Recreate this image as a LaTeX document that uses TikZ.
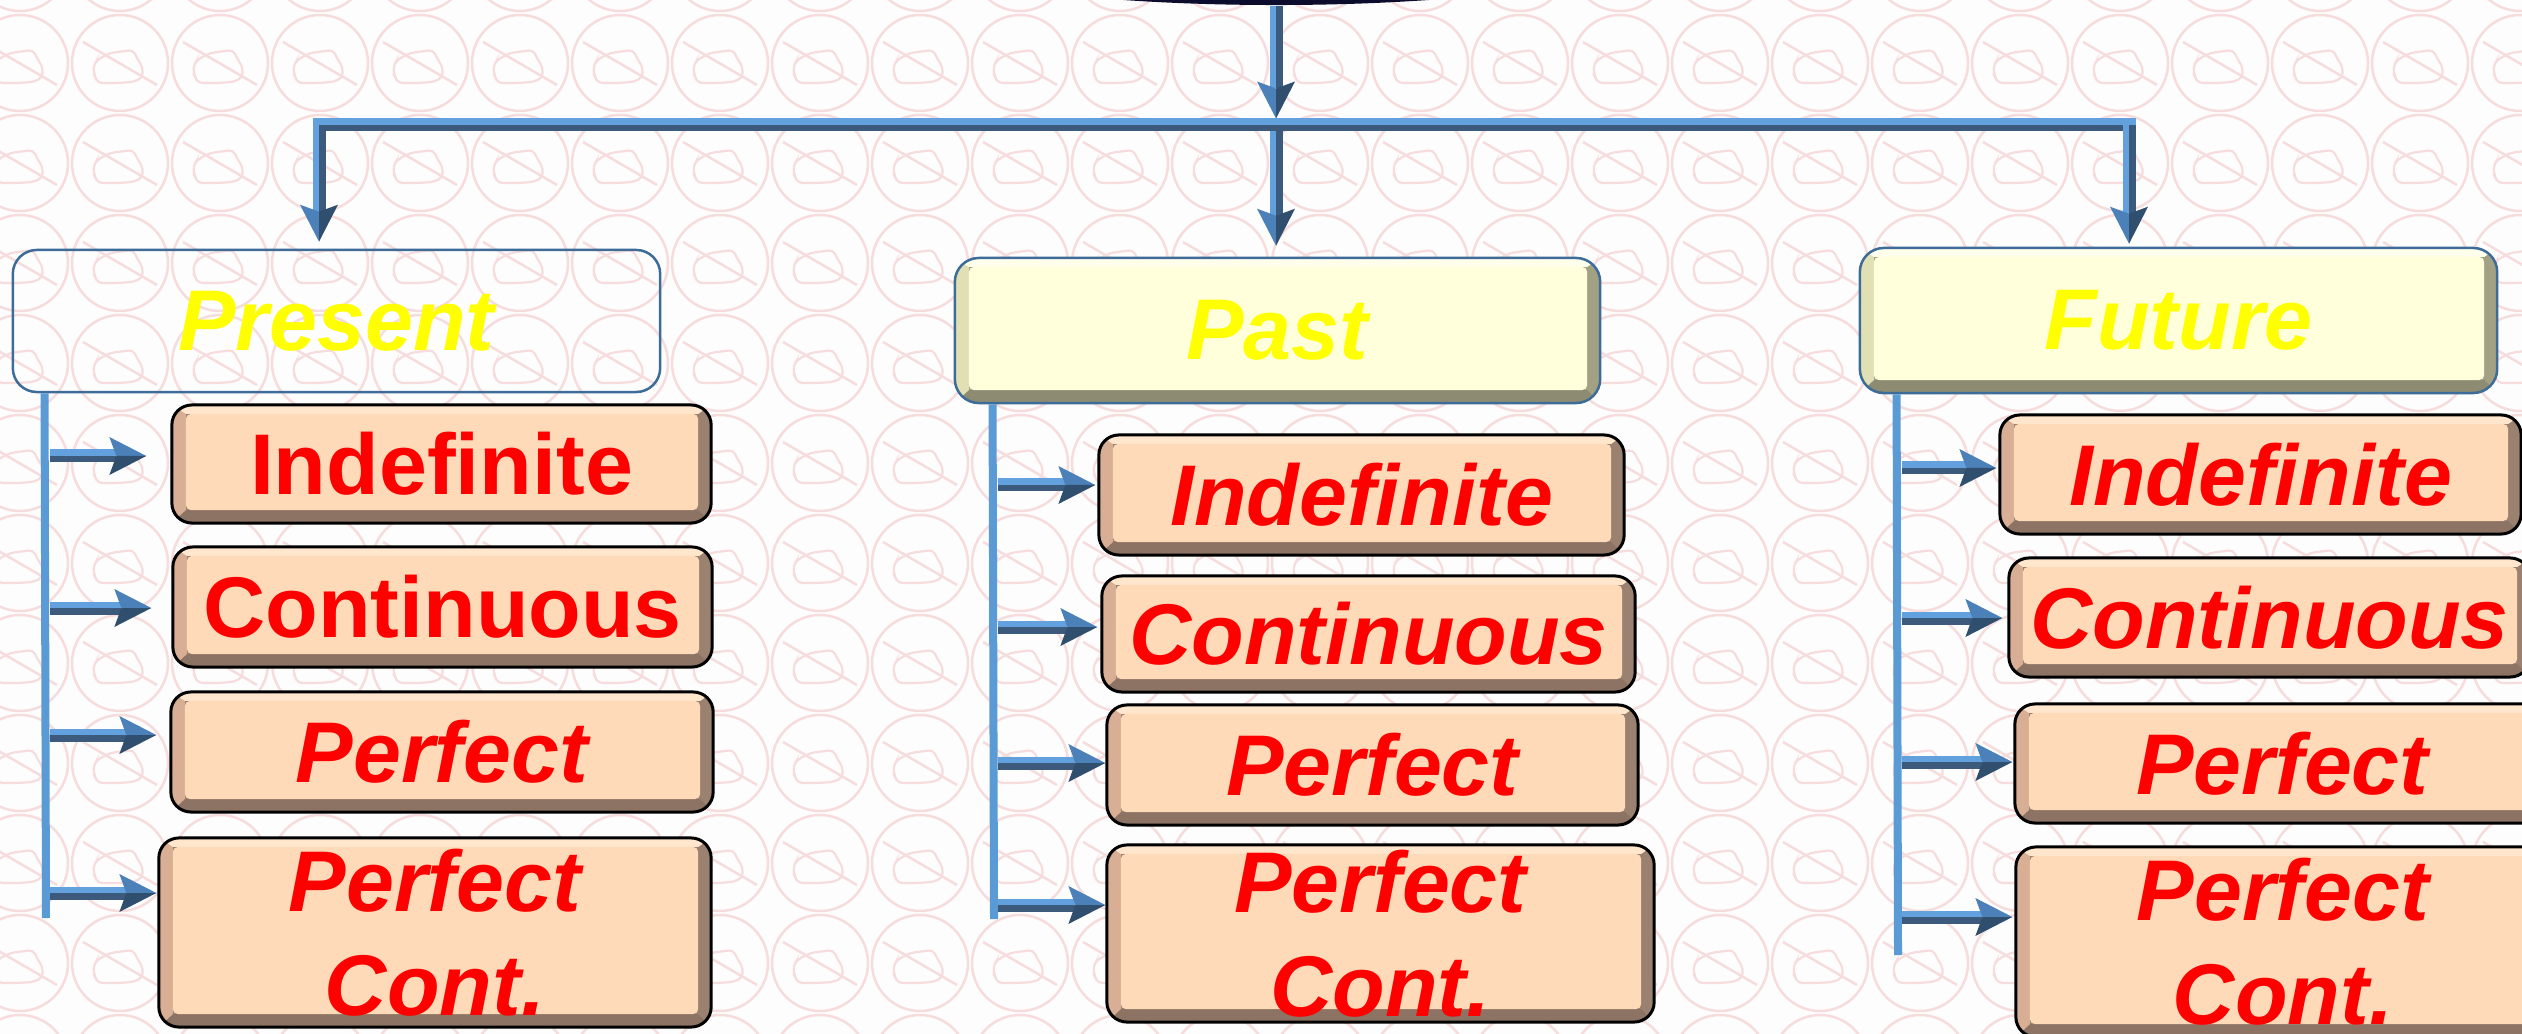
\documentclass[tikz,border=0pt]{standalone}
\usepackage{fontspec}
\setmainfont{Liberation Sans}
\usetikzlibrary{calc,shapes.geometric}

\definecolor{bgwhite}{RGB}{253,253,253}
\definecolor{patpink}{RGB}{246,220,220}
\definecolor{arwLightC}{RGB}{98,160,222}
\definecolor{arwDarkC}{RGB}{59,90,124}
\definecolor{headLightC}{RGB}{76,128,184}
\definecolor{headDarkC}{RGB}{48,78,110}
\definecolor{spineC}{RGB}{91,155,213}
\definecolor{hdrBorder}{RGB}{62,108,152}
\definecolor{hdrFace}{RGB}{255,255,220}
\definecolor{hdrLeft}{RGB}{225,223,180}
\definecolor{hdrBottom}{RGB}{141,140,114}
\definecolor{hdrRight}{RGB}{163,161,132}
\definecolor{hdrTop}{RGB}{255,255,236}
\definecolor{chFace}{RGB}{254,218,184}
\definecolor{chLeft}{RGB}{216,174,148}
\definecolor{chBottom}{RGB}{140,115,99}
\definecolor{chRight}{RGB}{155,130,112}
\definecolor{chTop}{RGB}{255,230,204}
\definecolor{rootNavy}{RGB}{12,12,44}
\definecolor{txtRed}{RGB}{255,0,0}
\definecolor{txtYellow}{RGB}{255,255,0}

\tikzset{
  penicon/.pic={
    \draw[patpink, line width=0.025cm] (0,0) circle[radius=48];
    \draw[patpink, line width=0.025cm] (-37,-21) -- (37,22);
    \draw[patpink, line width=0.022cm, rounded corners=1.2pt]
      (-27,4) -- (-23,-3) -- (-10,-10) -- (13,-13) -- (17,-5) -- (23,5) -- (22,15)
      -- (13,19) -- (-3,20) -- (-22,20) -- (-25,14) -- cycle;
  },
  bevel/.style n args={5}{path picture={
    \path (path picture bounding box.south west) coordinate (qSW)
          (path picture bounding box.north east) coordinate (qNE)
          (path picture bounding box.south east) coordinate (qSE)
          (path picture bounding box.north west) coordinate (qNW);
    \fill[#1, sharp corners] (qSW) rectangle (qNE);
    \fill[#2, sharp corners] (qSW) -- (qSE) -- ([shift={(-0.13cm,0.13cm)}]qSE)
       -- ([shift={(0.14cm,0.13cm)}]qSW) -- cycle;
    \fill[#3, sharp corners] (qSW) -- ([shift={(0.14cm,0.13cm)}]qSW)
       -- ([shift={(0.14cm,-0.09cm)}]qNW) -- (qNW) -- cycle;
    \fill[#4, sharp corners] (qNW) -- (qNE) -- ([shift={(-0.13cm,-0.09cm)}]qNE)
       -- ([shift={(0.14cm,-0.09cm)}]qNW) -- cycle;
    \fill[#5, rounded corners=0.05cm] ([shift={(0.14cm,0.13cm)}]qSW)
       rectangle ([shift={(-0.13cm,-0.09cm)}]qNE);
  }},
  childbox/.style={draw=black, line width=0.03cm, rounded corners=0.2cm,
    inner sep=0pt, align=center, text=txtRed,
    font=\fontsize{24.5}{29.5}\selectfont\bfseries,
    bevel={chRight}{chBottom}{chLeft}{chTop}{chFace}},
  childit/.style={childbox, font=\fontsize{24.5}{29.5}\selectfont\bfseries\itshape},
  hdrbox/.style={draw=hdrBorder, line width=0.025cm, rounded corners=0.24cm,
    inner sep=0pt, text=txtYellow,
    font=\fontsize{24.5}{29.5}\selectfont\bfseries\itshape},
  hdrbevel/.style={hdrbox, bevel={hdrRight}{hdrBottom}{hdrLeft}{hdrTop}{hdrFace}},
  spine/.style={draw=spineC, line width=0.08cm},
}

\newcommand\hArrow[2]{%
  \coordinate (hs) at (#1);
  \coordinate (ht) at (#2);
  \fill[arwLightC] ($(hs)+(0,-6.5)$) rectangle ($(ht)+(-30,0)$);
  \fill[arwDarkC] (hs) rectangle ($(ht)+(-30,6.5)$);
  \fill[headLightC] (ht) -- ($(ht)+(-37,-19)$) -- ($(ht)+(-30,0)$) -- cycle;
  \fill[headDarkC] (ht) -- ($(ht)+(-30,0)$) -- ($(ht)+(-37,19)$) -- cycle;
}
\newcommand\vArrow[2]{%
  \coordinate (vs) at (#1);
  \coordinate (vt) at (#2);
  \fill[arwLightC] ($(vs)+(-6.5,0)$) rectangle ($(vt)+(0,-30)$);
  \fill[arwDarkC] (vs) rectangle ($(vt)+(6.5,-30)$);
  \fill[headLightC] (vt) -- ($(vt)+(-19,-37)$) -- ($(vt)+(0,-30)$) -- cycle;
  \fill[headDarkC] (vt) -- ($(vt)+(0,-30)$) -- ($(vt)+(19,-37)$) -- cycle;
}

\begin{document}
\begin{tikzpicture}[x=0.01cm,y=-0.01cm]
\useasboundingbox (0,0) rectangle (2522,1034);
\clip (0,0) rectangle (2522,1034);
\fill[bgwhite] (0,0) rectangle (2522,1034);
\foreach \i in {0,...,25} {
  \foreach \j in {-1,...,10} {
    \pic at ({20+100*\i},{63+100*\j}) {penicon};
  }
}

% root
\node[ellipse, fill=rootNavy, minimum width=7.6cm, minimum height=1.2cm, inner sep=0pt] (root) at (1276,-55) {};

% headers
\node[hdrbox, minimum width=6.47cm, minimum height=1.42cm] (pres) at (336.5,321) {Present};
\node[hdrbevel, minimum width=6.45cm, minimum height=1.45cm] (past) at (1277.5,330.5) {Past};
\node[hdrbevel, minimum width=6.37cm, minimum height=1.45cm] (fut) at (2178.5,320.5) {Future};

% present children
\node[childbox, minimum width=5.39cm, minimum height=1.18cm] (pInd) at (441.5,464) {Indefinite};
\node[childbox, minimum width=5.39cm, minimum height=1.20cm] (pCon) at (442.5,607) {Continuous};
\node[childit, minimum width=5.42cm, minimum height=1.20cm] (pPer) at (442,752) {Perfect};
\node[childit, minimum width=5.52cm, minimum height=1.89cm] (pPC) at (435,932.5) {Perfect\\Cont.};

% past children
\node[childit, minimum width=5.25cm, minimum height=1.20cm] (aInd) at (1361.5,495) {Indefinite};
\node[childit, minimum width=5.33cm, minimum height=1.16cm] (aCon) at (1368.5,634) {Continuous};
\node[childit, minimum width=5.31cm, minimum height=1.20cm] (aPer) at (1372.5,765) {Perfect};
\node[childit, minimum width=5.47cm, minimum height=1.77cm] (aPC) at (1380.5,933.5) {Perfect\\Cont.};

% future children
\node[childit, minimum width=5.21cm, minimum height=1.19cm] (fInd) at (2260.5,474.5) {Indefinite};
\node[childit, minimum width=5.21cm, minimum height=1.19cm] (fCon) at (2269.5,617.5) {Continuous};
\node[childit, minimum width=5.35cm, minimum height=1.19cm] (fPer) at (2282.5,763.5) {Perfect};
\node[childit, minimum width=5.34cm, minimum height=1.90cm] (fPC) at (2283,942) {Perfect\\Cont.};

% trunk and bar
\coordinate (bar) at (1276,125);
\coordinate (barL) at (319,125);
\coordinate (barR) at (2129,125);
\vArrow{root.south}{$(bar)+(0,-6.5)$}
\vArrow{$(bar)+(0,6.5)$}{$(bar |- past.north)+(0,-11)$}
\fill[arwLightC] ($(barL)+(-6.5,-6.5)$) rectangle ($(barR)+(6.5,0)$);
\fill[arwDarkC] ($(barL)+(-6.5,0)$) rectangle ($(barR)+(6.5,6.5)$);
\vArrow{barL}{$(barL |- pres.north)+(0,-7)$}
\vArrow{barR}{$(barR |- fut.north)+(0,-3)$}

% spines
\coordinate (pSpT) at ($(pres.south west)+(33,0)$);
\coordinate (pSpB) at (46,918);
\coordinate (aSpT) at ($(past.south west)+(39,0)$);
\coordinate (aSpB) at (994,919);
\coordinate (fSpT) at ($(fut.south west)+(38,0)$);
\coordinate (fSpB) at (1898,955);
\draw[spine] (pSpT) -- (pSpB);
\draw[spine] (aSpT) -- (aSpB);
\draw[spine] (fSpT) -- (fSpB);

% branch arrows
\coordinate (pa1) at (50,456);
\coordinate (pa2) at (50,608);
\coordinate (pa3) at (50,735);
\coordinate (pa4) at (50,893);
\hArrow{pa1}{$(pInd.west |- pa1)+(-24,0)$}
\hArrow{pa2}{$(pCon.west |- pa2)+(-20,0)$}
\hArrow{pa3}{$(pPer.west |- pa3)+(-13,0)$}
\hArrow{pa4}{$(pPC.west |- pa4)+(-1,0)$}

\coordinate (aa1) at (998,485);
\coordinate (aa2) at (998,627);
\coordinate (aa3) at (998,763);
\coordinate (aa4) at (998,905);
\hArrow{aa1}{$(aInd.west |- aa1)+(-2,0)$}
\hArrow{aa2}{$(aCon.west |- aa2)+(-3,0)$}
\hArrow{aa3}{$(aPer.west |- aa3)+(0,0)$}
\hArrow{aa4}{$(aPC.west |- aa4)+(0,0)$}

\coordinate (fa1) at (1902,468);
\coordinate (fa2) at (1902,618);
\coordinate (fa3) at (1902,762);
\coordinate (fa4) at (1902,917);
\hArrow{fa1}{$(fInd.west |- fa1)+(-2,0)$}
\hArrow{fa2}{$(fCon.west |- fa2)+(-5,0)$}
\hArrow{fa3}{$(fPer.west |- fa3)+(-1,0)$}
\hArrow{fa4}{$(fPC.west |- fa4)+(-2,0)$}
\end{tikzpicture}
\end{document}
